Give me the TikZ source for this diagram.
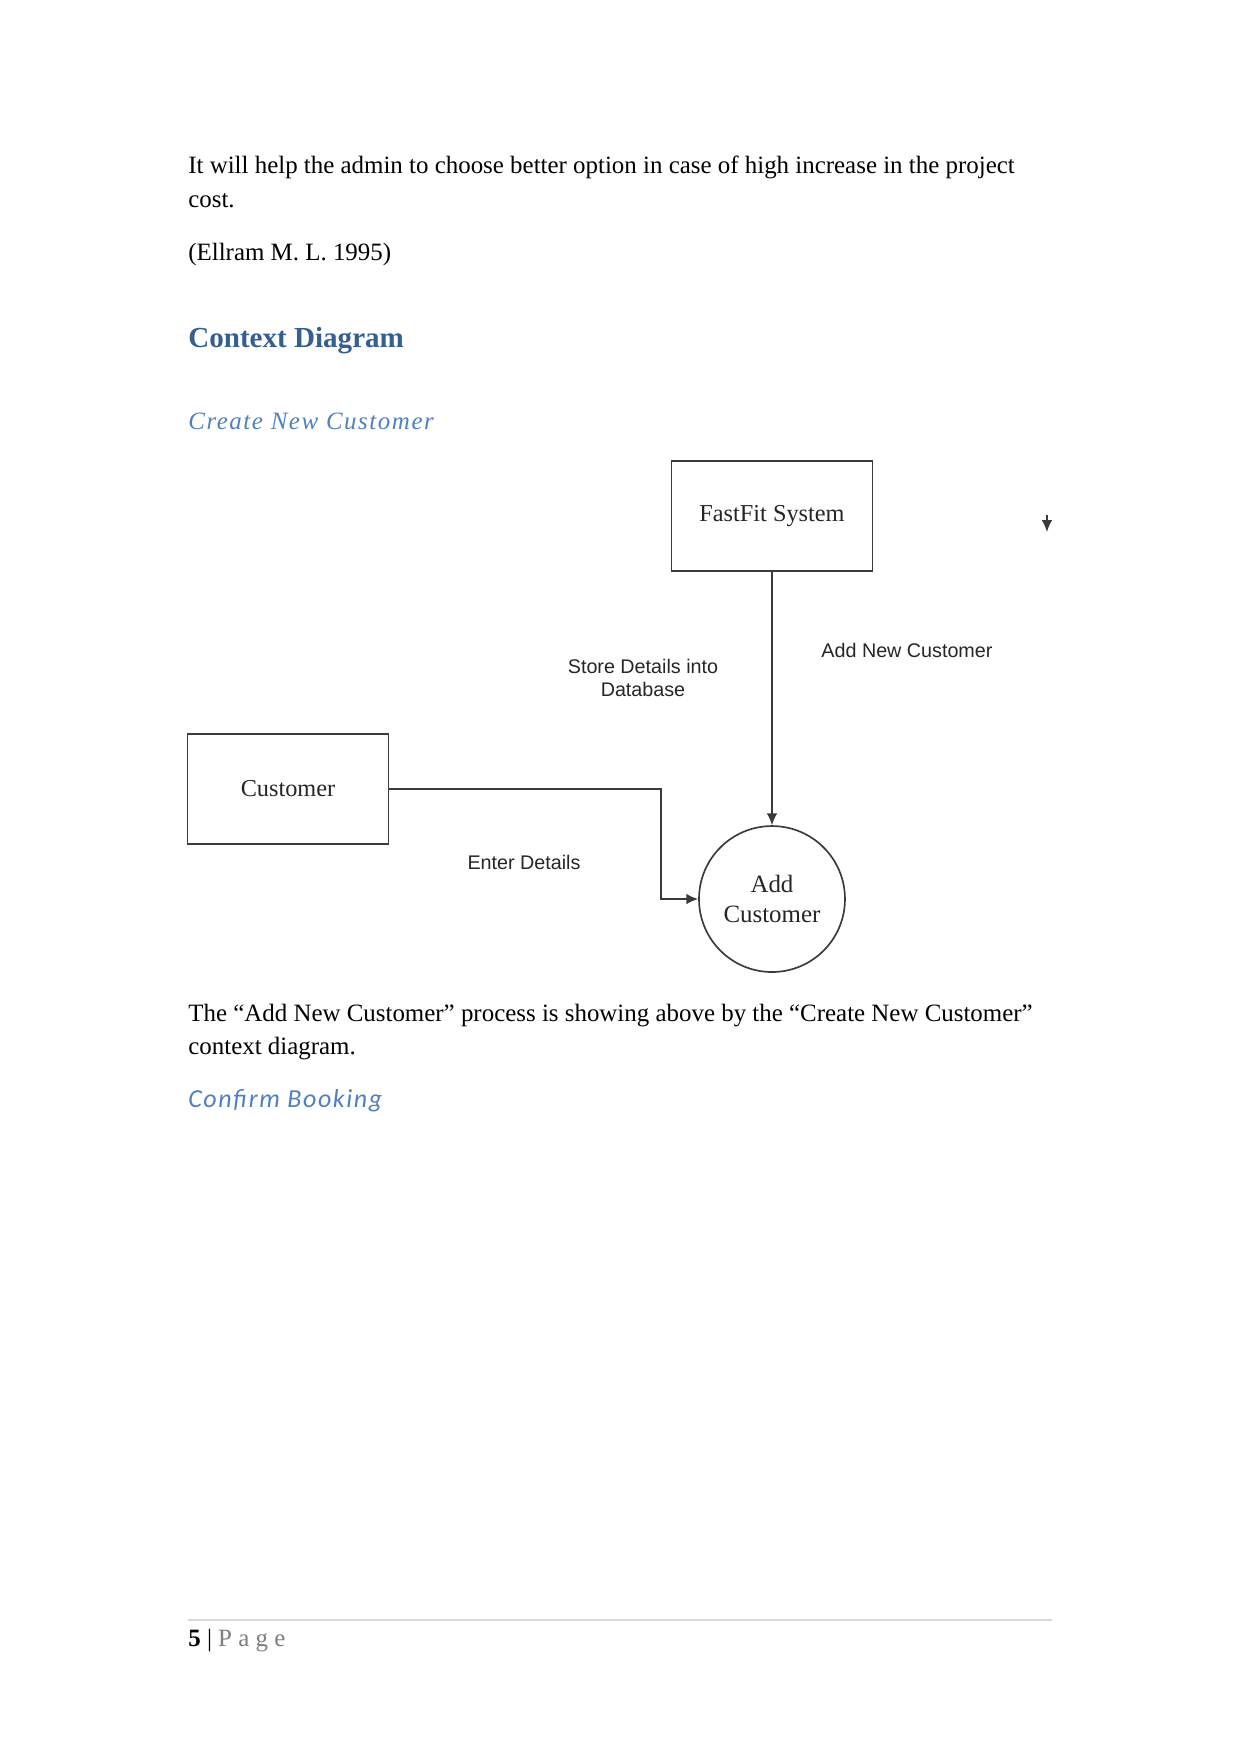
\documentclass[tikz,border=0pt]{standalone}
\usepackage{fontspec}
\setmainfont{Liberation Serif}
\newfontfamily\arialfont{Liberation Sans}
\newfontfamily\subfont[LetterSpace=6.25]{Liberation Serif}
\newfontfamily\subcalfont[LetterSpace=6.25]{Carlito}
\newfontfamily\pagefont[LetterSpace=25]{Liberation Serif}
\usepackage{xcolor}
\usetikzlibrary{arrows.meta, positioning, calc}
\definecolor{hblue}{HTML}{365F91}
\definecolor{sblue}{HTML}{4F81BD}
\definecolor{rulegray}{HTML}{D9D9D9}
\definecolor{pgray}{HTML}{7F7F7F}
\definecolor{dline}{HTML}{3A3A3A}
\tikzset{
  bodytxt/.style={anchor=base west, inner sep=0pt, font=\fontsize{12}{14}\selectfont},
  hdone/.style={anchor=base west, inner sep=0pt, text=hblue,
                font=\bfseries\fontsize{14}{16}\selectfont},
  subhd/.style={anchor=base west, inner sep=0pt, text=sblue,
                font=\subfont\itshape\fontsize{12}{14}\selectfont},
  subhdc/.style={anchor=base west, inner sep=0pt, text=sblue,
                 font=\subcalfont\itshape\fontsize{12.5}{14}\selectfont},
  entbox/.style={draw=dline, line width=0.9pt, minimum width=3.4cm,
                 minimum height=1.86cm, inner sep=0pt, text=black!85,
                 font=\fontsize{11.7}{14}\selectfont},
  procnode/.style={circle, draw=dline, line width=0.8pt, minimum size=2.47cm,
                   inner sep=0pt, align=center, text=black!85,
                   font=\fontsize{12}{14.2}\selectfont},
  flowlbl/.style={inner sep=0pt, text=black!85, align=center,
                  font=\arialfont\fontsize{9.5}{11.1}\selectfont},
  flowarr/.style={-{Latex[length=2mm,width=1.8mm]}, line width=0.85pt, dline},
}

\begin{document}
\begin{tikzpicture}
  \fill[white] (0,0) rectangle (21,29.682);
  \useasboundingbox (0,0) rectangle (21,29.682);

  %% ── text above ──
  \node[bodytxt] (para1a) at (3.18,26.754) {It will help the admin to choose better option in case of high increase in the project};
  \node[bodytxt] (para1b) at (3.18,26.178) {cost.};
  \node[bodytxt] (cite) at (3.18,25.281) {(Ellram M. L. 1995)};
  \node[hdone] (hdctx) at (3.18,23.809) {Context Diagram};
  \node[subhd] (hdcreate) at (3.18,22.422) {Create New Customer};

  %% ── context diagram ──
  \node[entbox] (fastfit) at (13.064,20.950) {FastFit System};
  \node[entbox] (customer) at (4.874,16.330) {Customer};
  \node[procnode] (addcust) at (13.064,14.468) {Add\\Customer};

  \draw[flowarr] (fastfit.south) -- (addcust.north);
  \draw[flowarr] (customer.east) -| ([xshift=-0.626cm]addcust.west) -- (addcust.west);

  \node[flowlbl] (lbladd) at (15.348,18.682) {Add New Customer};
  \node[flowlbl] (lblstore) at (10.881,18.208) {Store Details into\\Database};
  \node[flowlbl] (lblenter) at (8.867,15.094) {Enter Details};

  %% stray arrow at the right
  \coordinate (straytop) at (17.717,20.966);
  \coordinate (straybot) at (17.717,20.679);
  \draw[flowarr] (straytop) -- (straybot);

  %% ── text below ──
  \node[bodytxt] (para2a) at (3.18,12.404) {The “Add New Customer” process is showing above by the “Create New Customer”};
  \node[bodytxt] (para2b) at (3.18,11.845) {context diagram.};
  \node[subhdc] (hdconfirm) at (3.18,10.932) {Confirm Booking};

  %% ── footer ──
  \draw[rulegray, line width=0.6pt] (3.181,2.268) -- (17.802,2.268);
  \node[bodytxt] (pageno) at (3.18,1.811) {\textbf{5} | \textcolor{pgray}{\pagefont Page}};
\end{tikzpicture}
\end{document}
